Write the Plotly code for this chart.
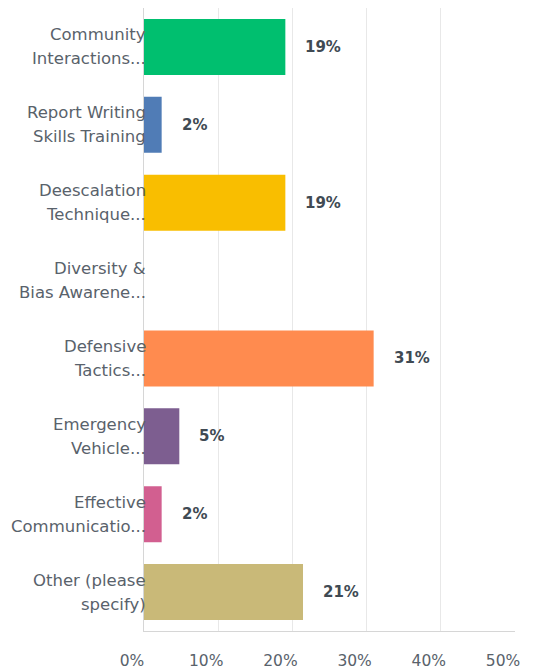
import plotly.graph_objects as go

categories = [
    ["Community", "Interactions..."],
    ["Report Writing", "Skills Training"],
    ["Deescalation", "Technique..."],
    ["Diversity &", "Bias Awarene..."],
    ["Defensive", "Tactics..."],
    ["Emergency", "Vehicle..."],
    ["Effective", "Communicatio..."],
    ["Other (please", "specify)"],
]
values = [19.05, 2.38, 19.05, 0.0, 30.95, 4.76, 2.38, 21.43]
value_labels = ["19%", "2%", "19%", "", "31%", "5%", "2%", "21%"]
colors = ["#00BF6F", "#507CB6", "#F9BE00", "#6BC8CD", "#FF8B4F", "#7D5E90", "#D25F90", "#C9B978"]
tick_vals = [0, 10, 20, 30, 40, 50]
tick_text = ["0%", "10%", "20%", "30%", "40%", "50%"]

FONT = "DejaVu Sans"
TXT = "#59626b"

fig = go.Figure()
fig.add_trace(go.Bar(
    x=values, y=list(range(len(categories))), orientation="h",
    marker=dict(color=colors, line=dict(width=0)),
    hoverinfo="skip",
))

annotations = []
for i, (v, lab, cat) in enumerate(zip(values, value_labels, categories)):
    for j, line in enumerate(cat):
        annotations.append(dict(
            x=0, y=i, xref="x", yref="y", text=line, showarrow=False,
            xanchor="right", yanchor="middle", align="right", xshift=4,
            yshift=12 if j == 0 else -12,
            font=dict(family=FONT, size=16.5, color=TXT),
        ))
    if lab:
        annotations.append(dict(
            x=v, y=i, xref="x", yref="y", text="<b>" + lab + "</b>", showarrow=False,
            xanchor="left", yanchor="middle", xshift=18,
            font=dict(family=FONT, size=15, color="#404a53"),
        ))

fig.update_layout(
    width=537, height=661,
    margin=dict(l=136, r=30, t=0, b=38),
    paper_bgcolor="white", plot_bgcolor="white",
    bargap=0.28, showlegend=False,
    annotations=annotations,
    xaxis=dict(
        range=[0, 50], tickvals=tick_vals, ticktext=tick_text,
        showgrid=True, gridcolor="#e8e8e8", gridwidth=1,
        zeroline=False, showline=True, linecolor="#d6d6d6", linewidth=1,
        ticks="", tickfont=dict(family=FONT, size=15.5, color=TXT),
        ticklabelshift=-12, ticklabelstandoff=15,
        fixedrange=True,
    ),
    yaxis=dict(
        range=[len(categories) - 0.5, -0.5], showticklabels=False,
        showgrid=False, zeroline=False, showline=True, linecolor="#d6d6d6",
        linewidth=1, ticks="", fixedrange=True,
    ),
)

fig.write_html("out.html", config={"displayModeBar": False})
